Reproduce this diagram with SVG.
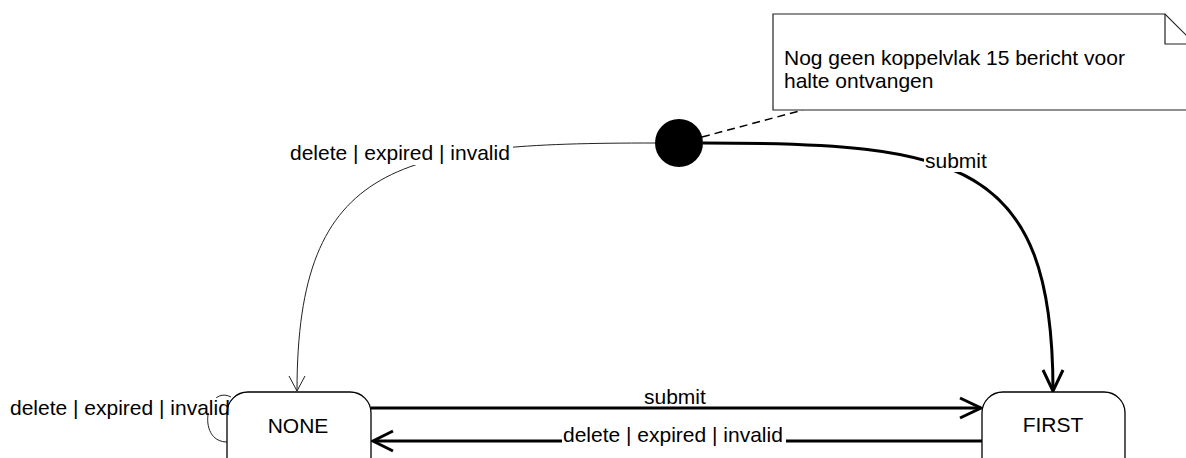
<svg xmlns="http://www.w3.org/2000/svg" width="1186" height="458" viewBox="0 0 1186 458">
<style>
text{font-family:"Liberation Sans",Arial,sans-serif;font-size:21px;fill:#000}
.thin{fill:none;stroke:#222;stroke-width:1}
.thick{fill:none;stroke:#000;stroke-width:3}
.node{fill:#fff;stroke:#000;stroke-width:1.3}
.bg{fill:#fff}
</style>
<rect width="1186" height="458" fill="#fff"/>
<g id="connectors">
<path class="thin" d="M655,143 C400,143 297,160 297,391"/>
<path class="thin" d="M289,376 L297,391 L305,376"/>
<path class="thick" d="M703,143 C958,143 1053,160 1053,391"/>
<path class="thick" d="M1043,370 L1053,391 L1063,370"/>
<path class="thick" d="M371,408 H981"/>
<path class="thick" d="M960,398 L981,408 L960,418"/>
<path class="thick" d="M982,441 H373"/>
<path class="thick" d="M393,431 L373,441 L393,451"/>
<path class="thin" stroke-width="1.3" d="M231,397 C206,384 196,442 227,442"/>
<path fill="none" stroke="#000" stroke-width="1.5" stroke-dasharray="8,5" d="M702,137 L803,110"/>
<rect class="bg" x="289" y="142" width="224" height="23"/>
<text x="290" y="160">delete | expired | invalid</text>
<rect class="bg" x="924" y="150" width="65" height="22"/>
<text x="925" y="168">submit</text>
<rect class="bg" x="643" y="388" width="65" height="18"/>
<text x="644" y="404">submit</text>
<rect class="bg" x="562" y="425" width="224" height="21"/>
<text x="563" y="442">delete | expired | invalid</text>
</g>
<g id="initial">
<circle cx="679" cy="143" r="24" fill="#000"/>
</g>
<g id="note">
<path fill="#fff" stroke="#222" stroke-width="1.2" d="M773,14 H1165 L1195,44 V110 H773 Z"/>
<path fill="none" stroke="#222" stroke-width="1.2" d="M1165,14 V44 H1195"/>
<text x="784" y="65">Nog geen koppelvlak 15 bericht voor</text>
<text x="784" y="88">halte ontvangen</text>
</g>
<g id="none">
<rect class="node" x="227" y="392" width="144" height="90" rx="21" ry="21"/>
<text x="298" y="433" text-anchor="middle">NONE</text>
</g>
<g id="first">
<rect class="node" x="982" y="392" width="143" height="90" rx="21" ry="21"/>
<text x="1053" y="432" text-anchor="middle">FIRST</text>
</g>
<g id="selfloop-label">
<rect class="bg" x="8" y="398" width="217" height="15"/>
<text x="10" y="415">delete | expired | invalid</text>
</g>
</svg>
